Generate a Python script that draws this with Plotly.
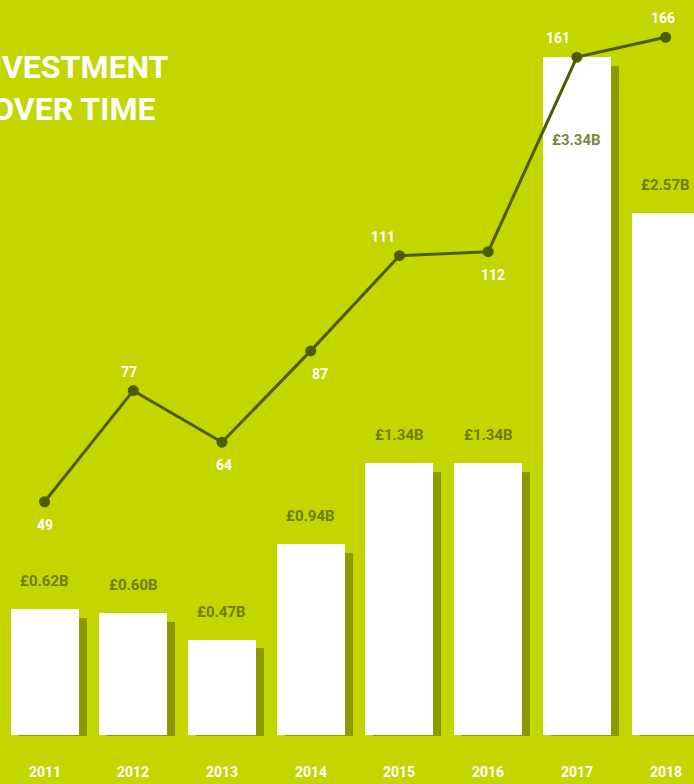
import plotly.graph_objects as go

years = ["2011", "2012", "2013", "2014", "2015", "2016", "2017", "2018"]
investment_bn = [0.62, 0.60, 0.47, 0.94, 1.34, 1.34, 3.34, 2.57]
investment_labels = ["£0.62B", "£0.60B", "£0.47B", "£0.94B", "£1.34B", "£1.34B", "£3.34B", "£2.57B"]
deal_count = [49, 77, 64, 87, 111, 112, 161, 166]

BG = "#c4d600"
SHADOW = "#8c9900"
LINE = "#4e5c00"
LABEL = "#6e7c00"
FONT = "Roboto"

# where the white count label sits relative to its marker
count_side = ["below", "above", "below", "below", "above", "below", "above", "above"]
count_nudge = [0, -4, 2, 9, -16, 5, -19, -3]

x_idx = list(range(len(years)))
bar_w = 0.767

fig = go.Figure()

# drop shadow behind each bar
fig.add_trace(
    go.Bar(
        x=x_idx,
        y=[v - 0.036 for v in investment_bn],
        base=-0.006,
        width=bar_w,
        offset=-bar_w / 2 + 0.09,
        marker=dict(color=SHADOW, line=dict(width=0)),
        hoverinfo="skip",
        showlegend=False,
    )
)
fig.add_trace(
    go.Bar(
        x=x_idx,
        y=investment_bn,
        width=bar_w,
        offset=-bar_w / 2,
        marker=dict(color="white", line=dict(width=0)),
        name="Investment",
        showlegend=False,
    )
)
fig.add_trace(
    go.Scatter(
        x=x_idx,
        y=deal_count,
        yaxis="y2",
        mode="lines+markers",
        line=dict(color=LINE, width=3),
        marker=dict(color=LINE, size=11),
        name="Deals",
        showlegend=False,
    )
)

annotations = []
for i, (v, lab) in enumerate(zip(investment_bn, investment_labels)):
    inside = years[i] == "2017"
    annotations.append(
        dict(
            x=i, y=v, xref="x", yref="y",
            text=lab, showarrow=False,
            yshift=-83 if inside else 28,
            font=dict(family=FONT, size=15, color="#7d8640" if inside else LABEL, weight="bold"),
        )
    )
for i, (c, side, dx) in enumerate(zip(deal_count, count_side, count_nudge)):
    annotations.append(
        dict(
            x=i, y=c, xref="x", yref="y2",
            text=str(c), showarrow=False,
            xshift=dx, yshift=19 if side == "above" else -23,
            font=dict(family=FONT, size=14, color="white", weight="bold"),
        )
    )
for i, yr in enumerate(years):
    annotations.append(
        dict(
            x=i, y=1 - 772 / 784, xref="x", yref="paper", yanchor="middle",
            text=yr, showarrow=False,
            font=dict(family=FONT, size=14, color="white", weight="bold"),
        )
    )
annotations.append(
    dict(x=171 / 694, y=1 - 67 / 784, xref="paper", yref="paper",
         xanchor="right", yanchor="middle",
         text="INVESTMENT", showarrow=False,
         font=dict(family=FONT, size=32, color="white", weight="bold"))
)
annotations.append(
    dict(x=157 / 694, y=1 - 109 / 784, xref="paper", yref="paper",
         xanchor="right", yanchor="middle",
         text="OVER TIME", showarrow=False,
         font=dict(family=FONT, size=32, color="white", weight="bold"))
)

fig.update_layout(
    width=694,
    height=784,
    margin=dict(l=0, r=0, t=0, b=0),
    paper_bgcolor=BG,
    plot_bgcolor=BG,
    barmode="overlay",
    bargap=0,
    xaxis=dict(range=[-0.502, 7.32], visible=False, fixedrange=True),
    yaxis=dict(range=[-0.241, 3.621], visible=False, fixedrange=True),
    yaxis2=dict(range=[-22.1, 175.4], overlaying="y", visible=False, fixedrange=True),
    annotations=annotations,
)

fig.write_html(
    "out.html",
    config={"displayModeBar": False},
    post_script="document.body.style.margin='0';",
)
